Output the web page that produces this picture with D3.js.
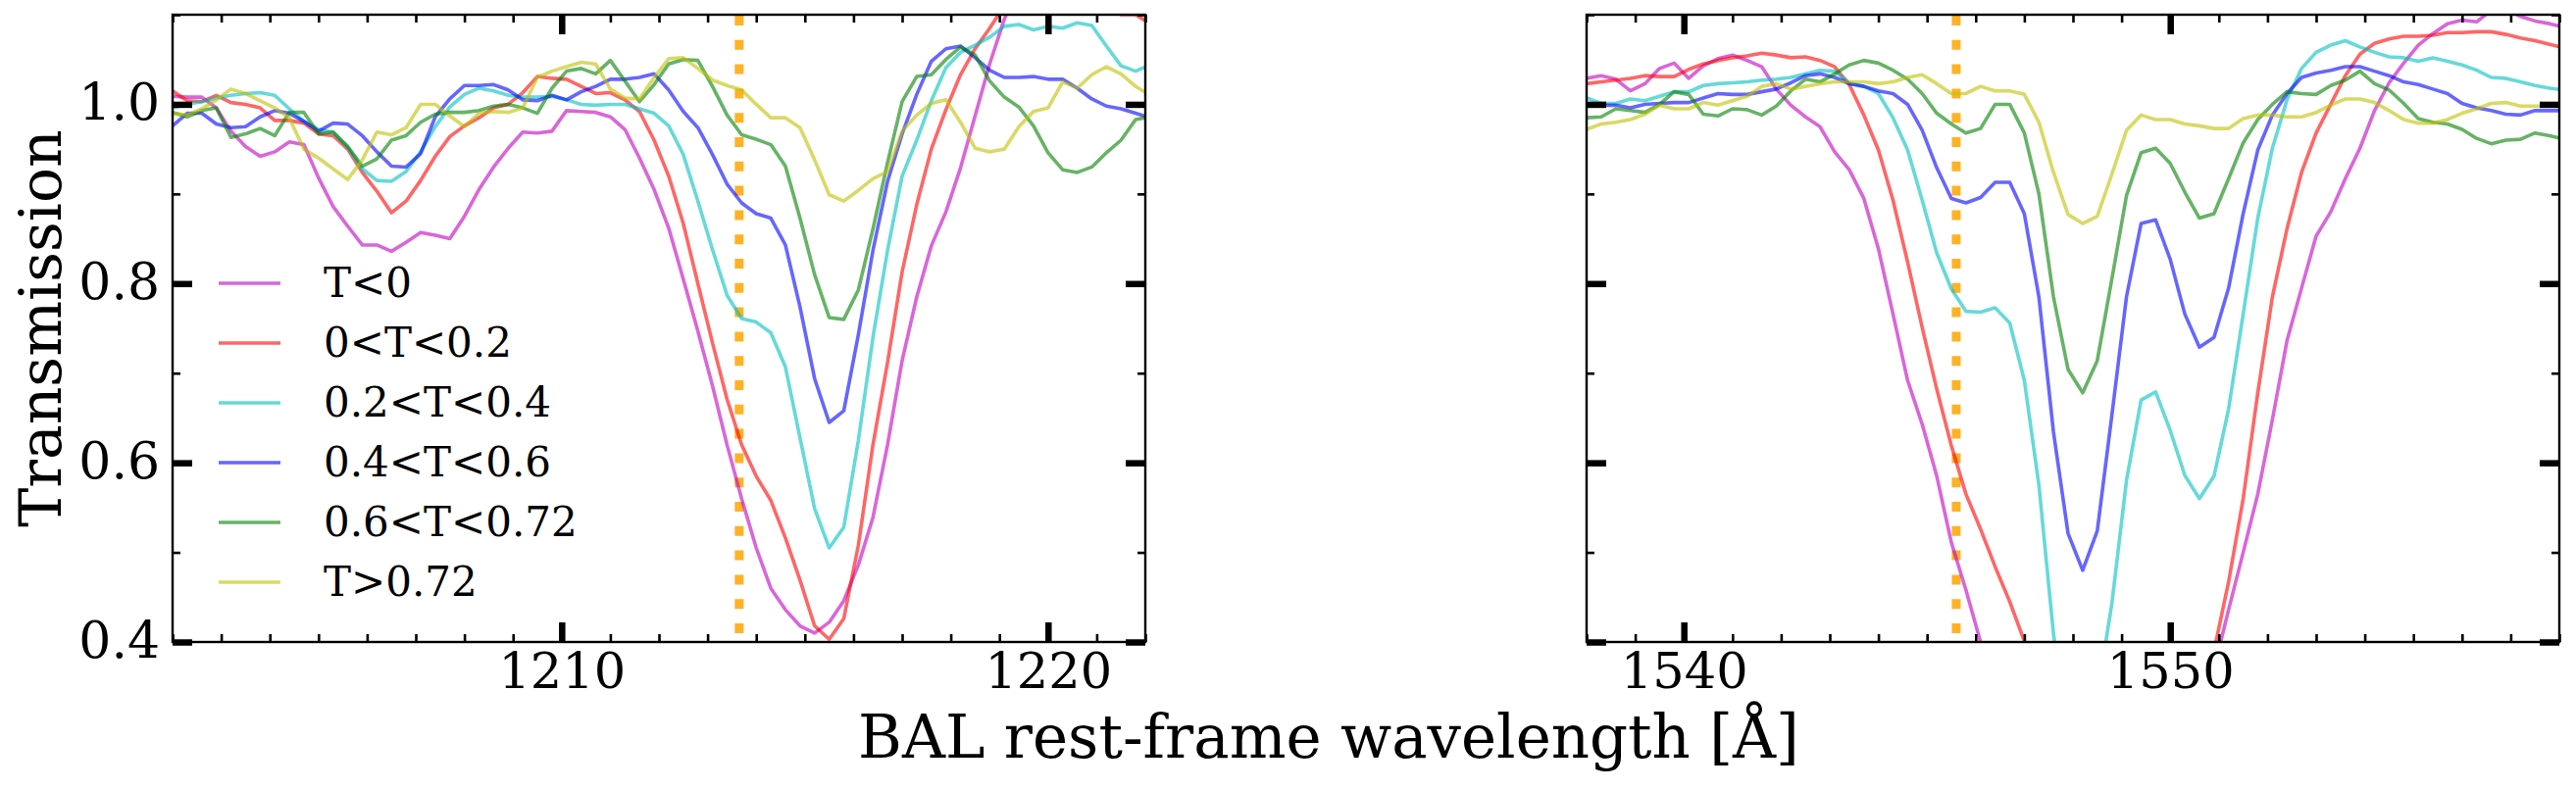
<!DOCTYPE html>
<html>
<head>
<meta charset="utf-8">
<script src="https://cdn.jsdelivr.net/npm/d3@7"></script>
<style>
  body { margin: 0; background: #fff; }
  svg { display: block; font-family: "DejaVu Serif", serif; }
</style>
</head>
<body>
<svg id="chart" width="2627" height="806"></svg>
<script>
// rest-frame wavelength grids (Angstrom), one per panel
const lyaWave = [1202.0,1202.3,1202.6,1202.9,1203.2,1203.5,1203.8,1204.1,1204.4,1204.7,1205.0,1205.3,1205.6,1205.9,1206.2,1206.5,1206.8,1207.1,1207.4,1207.7,1208.0,1208.3,1208.6,1208.9,1209.2,1209.5,1209.8,1210.1,1210.4,1210.7,1211.0,1211.3,1211.6,1211.9,1212.2,1212.5,1212.8,1213.1,1213.4,1213.7,1214.0,1214.3,1214.6,1214.9,1215.2,1215.5,1215.8,1216.1,1216.4,1216.7,1217.0,1217.3,1217.6,1217.9,1218.2,1218.5,1218.8,1219.1,1219.4,1219.7,1220.0,1220.3,1220.6,1220.9,1221.2,1221.5,1221.8,1222.1];
const civWave = [1538.0,1538.3,1538.6,1538.9,1539.2,1539.5,1539.8,1540.1,1540.4,1540.7,1541.0,1541.3,1541.6,1541.9,1542.2,1542.5,1542.8,1543.1,1543.4,1543.7,1544.0,1544.3,1544.6,1544.9,1545.2,1545.5,1545.8,1546.1,1546.4,1546.7,1547.0,1547.3,1547.6,1547.9,1548.2,1548.5,1548.8,1549.1,1549.4,1549.7,1550.0,1550.3,1550.6,1550.9,1551.2,1551.5,1551.8,1552.1,1552.4,1552.7,1553.0,1553.3,1553.6,1553.9,1554.2,1554.5,1554.8,1555.1,1555.4,1555.7,1556.0,1556.3,1556.6,1556.9,1557.2,1557.5,1557.8,1558.1];

const binLabels = ['T<0', '0<T<0.2', '0.2<T<0.4', '0.4<T<0.6', '0.6<T<0.72', 'T>0.72'];
const binColors = ['#bf00bf', '#ff0000', '#00bfbf', '#0000ff', '#008000', '#bfbf00'];

// transmission, left panel
const lyaNeg = [1.009,1.008,1.008,0.996,0.970,0.953,0.942,0.947,0.958,0.955,0.918,0.886,0.864,0.843,0.843,0.836,0.846,0.857,0.854,0.850,0.875,0.905,0.930,0.951,0.969,0.968,0.970,0.993,0.992,0.991,0.986,0.972,0.940,0.905,0.862,0.805,0.747,0.686,0.620,0.560,0.505,0.460,0.436,0.418,0.410,0.422,0.446,0.486,0.539,0.620,0.714,0.785,0.842,0.880,0.929,0.987,1.045,1.095,1.13,1.15,1.16,1.16,1.15,1.15,1.14,1.14,1.14,1.14];
const lya0 = [1.015,1.004,1.003,1.010,1.002,1.000,0.996,0.982,0.982,0.979,0.967,0.965,0.950,0.924,0.903,0.879,0.892,0.915,0.942,0.964,0.976,0.985,0.996,1.000,1.013,1.031,1.029,1.028,1.020,1.012,1.013,1.005,0.992,0.960,0.920,0.867,0.800,0.734,0.671,0.620,0.585,0.558,0.516,0.469,0.418,0.403,0.426,0.508,0.620,0.712,0.813,0.888,0.950,0.994,1.033,1.062,1.085,1.110,1.12,1.13,1.12,1.12,1.11,1.11,1.11,1.10,1.10,1.09];
const lya2 = [0.996,1.000,1.003,1.007,1.010,1.012,1.013,1.010,0.995,0.981,0.972,0.969,0.952,0.928,0.915,0.914,0.925,0.947,0.975,0.997,1.011,1.018,1.015,1.010,1.008,1.008,1.009,1.005,1.000,0.999,1.000,1.000,0.995,0.990,0.976,0.944,0.892,0.838,0.787,0.761,0.757,0.745,0.707,0.628,0.549,0.505,0.528,0.625,0.740,0.837,0.920,0.960,1.004,1.041,1.058,1.066,1.075,1.087,1.089,1.083,1.087,1.085,1.091,1.088,1.065,1.043,1.037,1.044];
const lya4 = [0.976,0.990,0.990,0.978,0.974,0.975,0.986,0.993,0.990,0.981,0.970,0.979,0.978,0.965,0.947,0.931,0.930,0.945,0.986,1.006,1.021,1.021,1.022,1.016,1.005,1.004,1.010,1.005,1.014,1.020,1.028,1.028,1.030,1.034,1.016,0.992,0.974,0.944,0.911,0.890,0.878,0.873,0.843,0.774,0.694,0.645,0.658,0.743,0.837,0.914,0.967,1.011,1.048,1.062,1.065,1.052,1.038,1.030,1.030,1.031,1.028,1.028,1.018,1.006,0.998,0.995,0.990,0.985];
const lya6 = [0.991,0.986,0.993,0.996,0.963,0.967,0.973,0.965,0.991,0.991,0.967,0.969,0.953,0.931,0.939,0.960,0.965,0.980,0.989,0.991,0.991,0.993,0.998,1.000,0.996,0.990,1.018,1.037,1.040,1.034,1.049,1.026,1.003,1.022,1.045,1.050,1.049,1.020,0.988,0.966,0.961,0.955,0.931,0.873,0.810,0.762,0.760,0.793,0.861,0.935,1.003,1.031,1.033,1.050,1.064,1.055,1.026,1.008,0.997,0.976,0.946,0.927,0.924,0.930,0.946,0.960,0.983,0.986];
const lya72 = [0.990,0.988,0.995,1.005,1.017,1.012,1.004,0.996,0.985,0.950,0.940,0.928,0.916,0.938,0.969,0.966,0.974,1.000,1.000,0.987,0.975,0.990,0.992,0.991,0.996,1.030,1.037,1.042,1.047,1.045,1.017,1.007,1.006,1.030,1.051,1.052,1.040,1.027,1.021,1.016,1.000,0.985,0.985,0.974,0.938,0.899,0.892,0.904,0.917,0.925,0.970,0.988,1.001,1.005,0.980,0.951,0.947,0.950,0.975,0.992,0.996,1.025,1.018,1.033,1.042,1.034,1.020,1.010];

// transmission, right panel
const civNeg = [1.029,1.032,1.028,1.015,1.023,1.040,1.046,1.029,1.043,1.051,1.055,1.049,1.042,1.017,0.999,0.986,0.975,0.947,0.927,0.895,0.839,0.766,0.692,0.643,0.585,0.511,0.458,0.400,0.35,0.31,0.28,0.25,0.22,0.20,0.19,0.18,0.18,0.19,0.20,0.22,0.25,0.29,0.33,0.37,0.436,0.500,0.565,0.648,0.736,0.795,0.853,0.880,0.917,0.951,0.993,1.024,1.046,1.066,1.079,1.090,1.094,1.092,1.105,1.107,1.098,1.093,1.090,1.086];
const civ0 = [1.023,1.025,1.027,1.029,1.032,1.031,1.031,1.039,1.045,1.049,1.052,1.054,1.057,1.055,1.052,1.053,1.049,1.042,1.022,0.988,0.949,0.893,0.824,0.751,0.682,0.619,0.565,0.526,0.484,0.445,0.401,0.36,0.32,0.28,0.25,0.22,0.20,0.19,0.19,0.20,0.23,0.27,0.32,0.39,0.467,0.560,0.678,0.785,0.861,0.924,0.968,1.000,1.032,1.056,1.068,1.073,1.076,1.076,1.077,1.080,1.080,1.081,1.081,1.078,1.074,1.071,1.067,1.063];
const civ2 = [1.007,1.001,1.001,1.006,1.004,1.009,1.014,1.014,1.021,1.023,1.024,1.025,1.027,1.028,1.030,1.034,1.038,1.037,1.024,1.020,1.012,0.985,0.949,0.893,0.834,0.794,0.769,0.768,0.773,0.756,0.692,0.575,0.409,0.30,0.26,0.34,0.443,0.580,0.670,0.679,0.636,0.586,0.560,0.585,0.660,0.766,0.873,0.951,1.005,1.040,1.058,1.066,1.071,1.064,1.058,1.053,1.052,1.048,1.052,1.048,1.044,1.038,1.030,1.029,1.025,1.021,1.018,1.016];
const civ4 = [1.000,0.999,0.999,0.996,1.000,1.001,1.002,1.002,1.007,1.012,1.011,1.011,1.014,1.017,1.024,1.032,1.034,1.030,1.023,1.020,1.015,1.012,1.000,0.971,0.929,0.895,0.890,0.896,0.913,0.913,0.878,0.785,0.634,0.521,0.480,0.524,0.653,0.785,0.867,0.871,0.827,0.766,0.729,0.740,0.795,0.878,0.949,0.988,1.012,1.030,1.035,1.038,1.042,1.042,1.037,1.032,1.025,1.022,1.017,1.012,1.001,0.996,0.993,0.989,0.988,0.993,0.993,0.993];
const civ6 = [0.985,0.986,0.995,0.993,0.991,1.000,1.014,1.011,0.989,0.987,0.995,0.994,0.988,0.998,1.015,1.028,1.025,1.034,1.044,1.049,1.046,1.038,1.028,1.012,0.990,0.978,0.968,0.973,1.000,1.000,0.968,0.900,0.785,0.704,0.678,0.714,0.805,0.898,0.946,0.951,0.934,0.902,0.873,0.878,0.917,0.957,0.983,1.000,1.014,1.012,1.011,1.021,1.027,1.037,1.023,1.016,1.001,0.984,0.980,0.978,0.972,0.962,0.956,0.960,0.961,0.968,0.965,0.961];
const civ72 = [0.972,0.978,0.980,0.983,0.989,0.999,0.995,0.995,1.002,0.999,1.004,1.009,1.020,1.023,1.017,1.020,1.023,1.025,1.025,1.025,1.023,1.025,1.030,1.033,1.023,1.012,1.012,1.020,1.015,1.015,1.011,0.980,0.924,0.877,0.867,0.875,0.922,0.971,0.988,0.983,0.983,0.978,0.976,0.973,0.973,0.984,0.988,0.988,0.986,0.986,0.991,0.999,1.006,1.006,1.002,0.993,0.983,0.979,0.979,0.983,0.990,0.995,1.001,1.002,0.998,0.998,0.998,0.998];

const lyaTicks = [1210, 1220];
const civTicks = [1540, 1550];
const yTicks = [0.4, 0.6, 0.8, 1.0];
const yLabels = ['0.4', '0.6', '0.8', '1.0'];
const lineCentres = [1213.65, 1545.6];

const svg = d3.select('#chart');
const panelTop = 15, panelH = 640, panelW = 992;

const y = d3.scaleLinear().domain([0.4, 1.1]).range([panelH, 0]);
const yMinor = [0.5, 0.7, 0.9, 1.1];

const panels = [
  {name: 'lya', left: 176, domain: [1202, 1222], wave: lyaWave, ticks: lyaTicks, centre: lineCentres[0],
    series: [lyaNeg, lya0, lya2, lya4, lya6, lya72], labels: true},
  {name: 'civ', left: 1618, domain: [1538, 1558], wave: civWave, ticks: civTicks, centre: lineCentres[1],
    series: [civNeg, civ0, civ2, civ4, civ6, civ72], labels: false},
];

function tickAxis(axis, values, size, w) {
  return g => {
    g.call(axis.tickValues(values).tickSize(size).tickFormat(''));
    g.select('.domain').remove();
    g.selectAll('.tick line').attr('stroke', '#000').attr('stroke-width', w);
  };
}

panels.forEach(p => {
  const x = d3.scaleLinear().domain(p.domain).range([0, panelW]);
  const g = svg.append('g').attr('transform', `translate(${p.left},${panelTop})`);

  g.append('clipPath').attr('id', `clip-${p.name}`)
    .append('rect').attr('width', panelW).attr('height', panelH);

  const plot = g.append('g').attr('clip-path', `url(#clip-${p.name})`);

  // line centre marker
  plot.append('line')
    .attr('x1', x(p.centre)).attr('x2', x(p.centre))
    .attr('y1', 1).attr('y2', panelH)
    .attr('stroke', '#ffa500')
    .attr('stroke-opacity', 0.85)
    .attr('stroke-width', 9)
    .attr('stroke-dasharray', '10,14.8');

  const line = d3.line()
    .x((d, i) => x(p.wave[i]))
    .y(d => y(d));

  plot.selectAll('path.spec')
    .data(p.series)
    .join('path')
    .attr('class', 'spec')
    .attr('d', line)
    .attr('fill', 'none')
    .attr('stroke', (d, i) => binColors[i])
    .attr('stroke-opacity', 0.6)
    .attr('stroke-width', 3.6)
    .attr('stroke-linejoin', 'round');

  const xMinor = d3.range(p.domain[0], p.domain[1] + 1).filter(v => !p.ticks.includes(v));

  // inward ticks on all four sides
  g.append('g').attr('transform', `translate(0,${panelH})`).call(tickAxis(d3.axisTop(x), xMinor, 8, 2.6));
  g.append('g').attr('transform', `translate(0,${panelH})`).call(tickAxis(d3.axisTop(x), p.ticks, 20, 6.5));
  g.append('g').call(tickAxis(d3.axisBottom(x), xMinor, 8, 2.6));
  g.append('g').call(tickAxis(d3.axisBottom(x), p.ticks, 20, 6.5));
  g.append('g').call(tickAxis(d3.axisRight(y), yMinor, 8, 2.6));
  g.append('g').call(tickAxis(d3.axisRight(y), yTicks, 20, 6.5));
  g.append('g').attr('transform', `translate(${panelW},0)`).call(tickAxis(d3.axisLeft(y), yMinor, 8, 2.6));
  g.append('g').attr('transform', `translate(${panelW},0)`).call(tickAxis(d3.axisLeft(y), yTicks, 20, 6.5));

  g.append('rect')
    .attr('width', panelW).attr('height', panelH)
    .attr('fill', 'none').attr('stroke', '#000').attr('stroke-width', 2.4);

  // x tick labels
  g.append('g').attr('transform', `translate(0,${panelH})`)
    .call(d3.axisBottom(x).tickValues(p.ticks).tickSize(0).tickPadding(11).tickFormat(d3.format('d')))
    .call(a => a.select('.domain').remove())
    .selectAll('text')
    .attr('font-family', '"DejaVu Serif", serif')
    .attr('font-size', 51)
    .attr('fill', '#000');

  if (p.labels) {
    g.append('g')
      .call(d3.axisLeft(y).tickValues(yTicks).tickSize(0).tickPadding(13).tickFormat((d, i) => yLabels[i]))
      .call(a => a.select('.domain').remove())
      .selectAll('text')
      .attr('font-family', '"DejaVu Serif", serif')
      .attr('font-size', 52)
      .attr('dy', '0.29em')
      .attr('fill', '#000');

    // legend
    const leg = g.append('g').attr('transform', 'translate(47,274)');
    const row = leg.selectAll('g').data(binLabels).join('g')
      .attr('transform', (d, i) => `translate(0,${i * 61})`);
    row.append('line')
      .attr('x1', 0).attr('x2', 63)
      .attr('stroke', (d, i) => binColors[i])
      .attr('stroke-opacity', 0.6)
      .attr('stroke-width', 3.6);
    row.append('text')
      .attr('x', 107).attr('y', 14)
      .attr('font-size', 42)
      .text(d => d);
  }
});

svg.append('text')
  .attr('x', 1355).attr('y', 773)
  .attr('text-anchor', 'middle')
  .attr('font-size', 61)
  .text('BAL rest-frame wavelength [Å]');

svg.append('text')
  .attr('transform', 'translate(62,335) rotate(-90)')
  .attr('text-anchor', 'middle')
  .attr('font-size', 60)
  .text('Transmission');
</script>
</body>
</html>
